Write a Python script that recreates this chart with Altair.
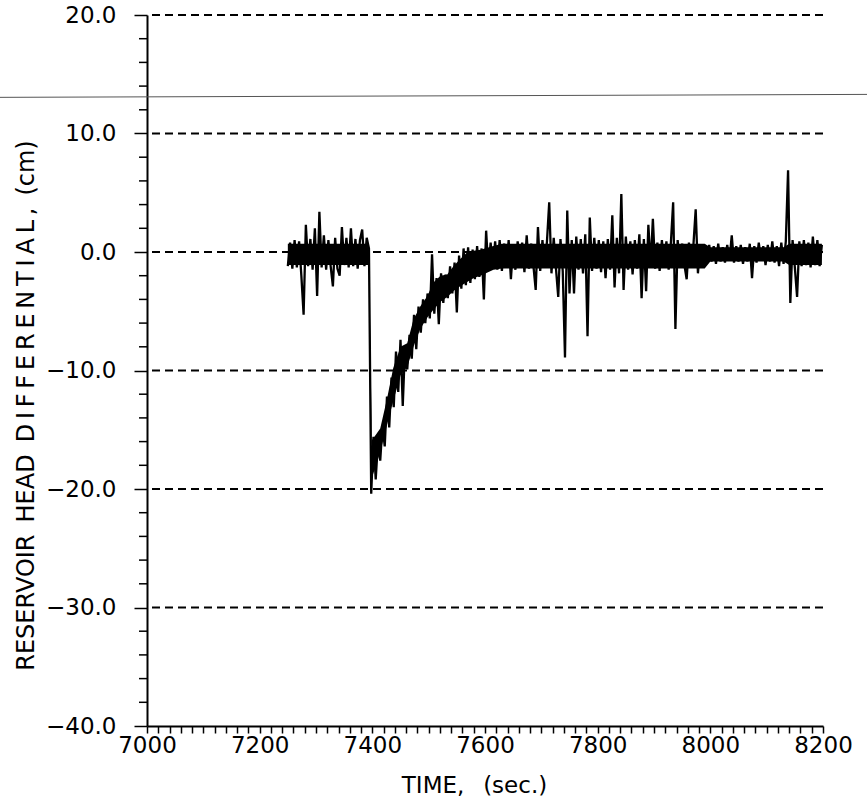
import altair as alt
import pandas as pd

# Head differential record, sampled every 4 s starting at t = 7250 s
T_START, T_STEP = 7250, 4
head_cm = [
    # 7250 - 7394 s : before the release
    -1.2, 0.8, -1.4, 1.0, -1.3, 0.9, -2.0, -5.3, 2.3, -1.2,
    1.1, -1.5, 2.0, -3.7, 3.4, -1.3, 1.4, -1.5, 1.0, -1.2,
    -2.9, 1.2, -1.4, -2.0, 2.1, -1.1, 1.2, -1.3, 2.0, -1.2,
    1.1, -1.4, 1.0, 1.9, -1.2, 1.2, 0.3,
    # 7398 - 7622 s : drawdown and recovery
    -20.4, -15.6, -19.2, -16.0, -17.6, -14.6, -16.4, -12.2, -14.8, -10.6,
    -13.1, -8.4, -11.8, -7.4, -13.0, -8.0, -9.9, -7.0, -9.0, -5.3,
    -8.2, -4.6, -6.8, -4.0, -6.0, -3.5, -5.6, -0.2, -5.2, -2.2,
    -6.1, -1.8, -4.3, -1.9, -3.9, -1.2, -3.5, -0.9, -5.1, -0.3,
    -3.1, 0.3, -2.8, 0.4, -2.6, 0.2, -2.3, 0.5, -2.1, 0.3,
    -4.0, 1.8, -1.6, 0.8, -1.4, 0.9, -1.5,
    # 7626 - 7986 s
    1.0, -1.6, 0.7, -1.3, 1.0, -2.3, 0.6, -1.5, 0.9, -1.2,
    0.8, -1.7, 1.4, -1.4, 0.7, -1.2, -3.2, 2.1, -1.6, 1.0,
    -1.3, 0.9, 4.2, -1.8, 1.2, -1.4, -3.8, 1.1, -1.6, -8.9,
    3.5, -3.5, 1.0, -3.5, 1.3, -1.5, 1.1, -1.8, 1.5, -7.1,
    2.9, -1.6, 1.2, -1.4, 1.0, -1.7, 0.9, -2.2, 1.1, -1.5,
    3.1, -3.0, 1.2, -1.8, 4.9, -3.2, 1.3, -1.5, 0.9, -1.9,
    1.0, -1.4, 1.5, -3.9, 1.1, -3.3, 2.3, -1.2, 2.8, -1.4,
    0.8, -1.6, 1.0, -1.2, 0.9, -1.5, 0.8, 4.2, -6.5, 1.0,
    -1.3, 0.7, -1.1, -2.3, 0.8, -1.2, 0.6, 3.6, -1.8, 0.6,
    -1.0,
    # 7990 - 8198 s
    0.5, -0.9, 0.6, -0.8, 0.5, -1.0, 0.7, -0.8, 0.4, -0.9,
    0.6, -0.7, 1.4, -0.9, 0.5, -0.8, 0.6, -1.0, 0.4, -0.8,
    0.7, -2.2, 0.5, -0.9, 0.8, -0.7, 0.5, -1.1, 0.6, -0.8,
    0.9, -0.9, 0.5, -1.2, 0.8, -1.0, 0.9, 6.9, -4.3, 1.0,
    -1.3, -3.8, 0.9, -1.2, 1.0, -1.1, 0.8, -1.3, 1.3, -1.1,
    1.0, -1.2, 0.6,
]
time_s = [T_START + T_STEP * i for i in range(len(head_cm))]

# Solid core of the noise band (lower / upper edge)
band_t = [7250, 7394, 7399, 7414, 7426, 7437, 7450, 7462, 7473, 7485,
          7498, 7508, 7521, 7533, 7544, 7556, 7569, 7580, 7592, 7615,
          7630, 7990, 8000, 8130, 8140, 8198]
band_hi = [0.7, 0.7, -15.9, -14.9, -12.4, -9.8, -8.0, -7.7, -5.7, -4.6,
           -3.7, -2.6, -2.0, -1.9, -1.2, -0.6, 0.0, 0.1, 0.2, 0.5,
           0.7, 0.7, 0.4, 0.4, 0.7, 0.7]
band_lo = [-1.1, -1.1, -19.1, -16.9, -14.6, -12.6, -10.4, -9.7, -8.0, -6.5,
           -5.5, -4.9, -4.2, -3.8, -3.3, -2.9, -2.5, -2.2, -2.0, -1.5,
           -1.4, -1.4, -0.8, -0.8, -1.1, -1.1]

grid_levels = [20, 10, 0, -10, -20, -30]
y_major = [20, 10, 0, -10, -20, -30, -40]
y_minor = [v for v in range(-40, 21, 2) if v % 10 != 0]
x_ticks = list(range(7000, 8201, 20))
stray_line = [13.05, 13.3]

FONT = "DejaVu Sans"
W, H = 676, 711
SP = "\u2009"  # letter spacing used in the plotter-style title

y_title = ("RESERVOIR\u2002HEAD\u2002"
           + SP.join("DIFFERENTIAL,")
           + "\u2002(cm)")

xs = alt.Scale(domain=[7000, 8200], nice=False, zero=False)
ys = alt.Scale(domain=[-40, 20], nice=False, zero=False)

x_axis = alt.Axis(
    values=x_ticks, format="d",
    labelExpr="datum.value % 200 === 0 ? datum.label : ''",
    tickSize=7, tickWidth=1.5, domainWidth=2,
    labelFont=FONT, labelFontSize=23, labelPadding=1,
    labelOverlap=False, labelFlush=False, grid=False,
    title="TIME,\u2002 (sec.)", titleFont=FONT, titleFontSize=23,
    titleFontWeight="normal", titleX=327, titleY=66,
    titleAlign="center", titleBaseline="alphabetic",
)
y_axis = alt.Axis(
    values=y_major, format=".1f",
    tickSize=13, tickWidth=1.5, domainWidth=2,
    labelFont=FONT, labelFontSize=23, labelPadding=18,
    labelOverlap=False, labelFlush=False, grid=False,
    title=y_title,
    titleFont=FONT, titleFontSize=24, titleFontWeight="normal",
    titleAngle=270, titleX=-114, titleY=390,
    titleAlign="center", titleBaseline="alphabetic",
)

grid = alt.Chart(pd.DataFrame({"level": grid_levels})).mark_rule(
    color="black", strokeWidth=1.8, strokeDash=[8, 5]
).encode(y=alt.Y("level:Q", scale=ys, axis=y_axis))

stray = alt.Chart(pd.DataFrame({"a": [stray_line[0]], "b": [stray_line[1]]})).mark_rule(
    color="#555555", strokeWidth=1
).encode(
    y=alt.Y("a:Q", scale=ys, axis=y_axis), y2="b:Q",
    x=alt.value(-147), x2=alt.value(W + 44),
)

minor = alt.Chart(pd.DataFrame({"v": y_minor})).mark_rule(
    color="black", strokeWidth=1.5
).encode(
    y=alt.Y("v:Q", scale=ys, axis=y_axis),
    x=alt.value(-8), x2=alt.value(0),
)

band = alt.Chart(pd.DataFrame({"bt": band_t, "lo": band_lo, "hi": band_hi})).mark_area(
    color="black", opacity=1
).encode(
    x=alt.X("bt:Q", scale=xs, axis=x_axis),
    y=alt.Y("lo:Q", scale=ys, axis=y_axis),
    y2="hi:Q",
)

trace = alt.Chart(pd.DataFrame({"t": time_s, "h": head_cm})).mark_line(
    color="black", strokeWidth=2.3
).encode(
    x=alt.X("t:Q", scale=xs, axis=x_axis),
    y=alt.Y("h:Q", scale=ys, axis=y_axis),
)

chart = alt.layer(grid, stray, minor, band, trace).properties(
    width=W, height=H,
    padding={"left": 147, "top": 15, "right": 44, "bottom": 76},
    autosize=alt.AutoSizeParams(type="none"),
).configure_view(strokeWidth=0).configure_axis(
    domainColor="black", tickColor="black",
    labelColor="black", titleColor="black",
)

chart.save("out.html", embed_options={"renderer": "svg", "actions": False})
